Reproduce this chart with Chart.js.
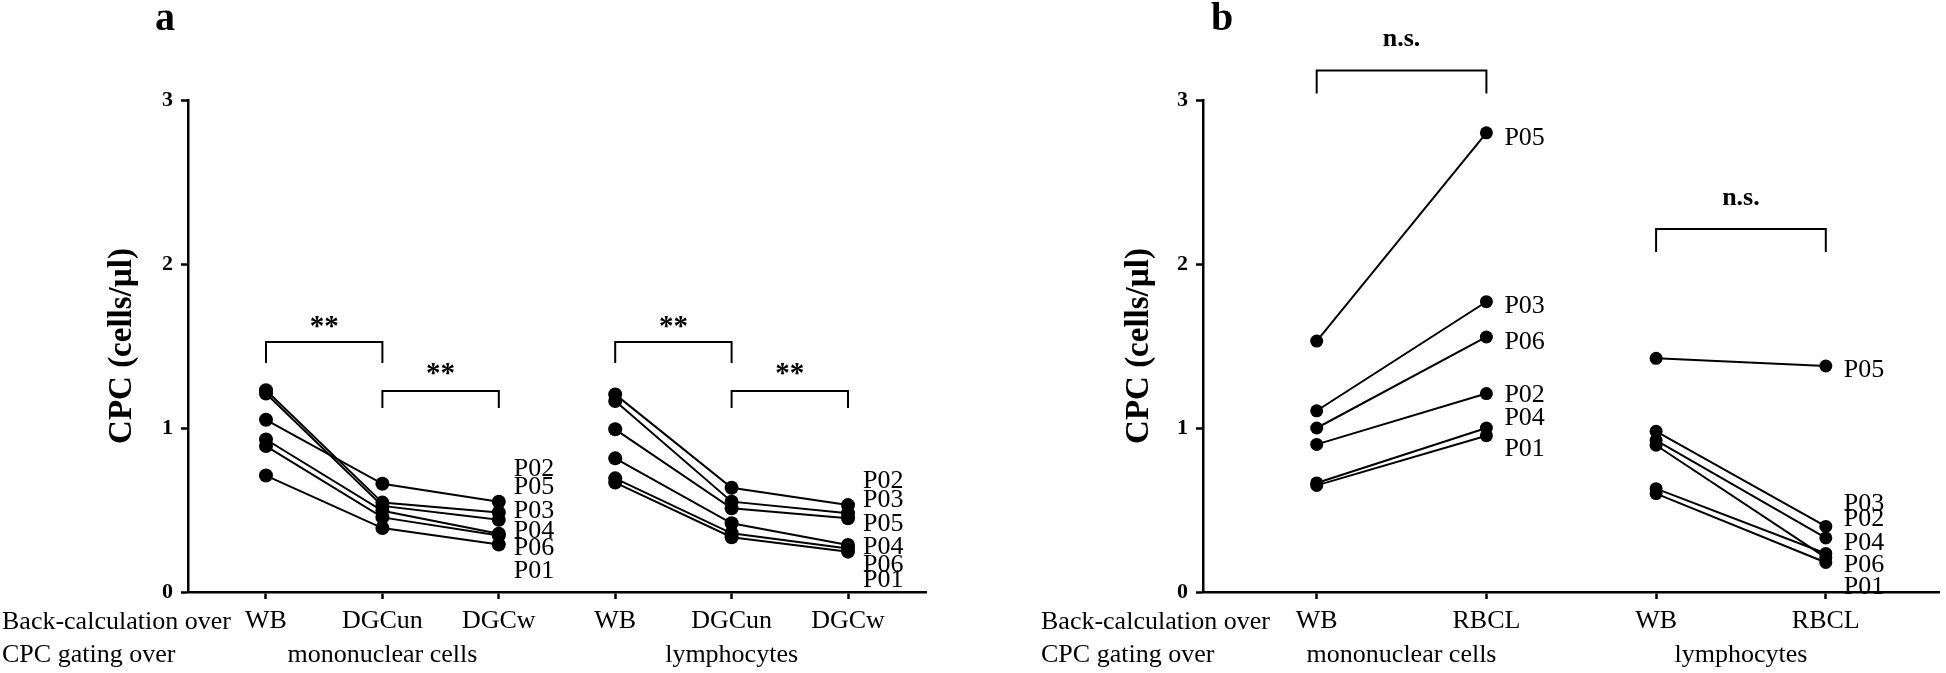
<!DOCTYPE html>
<html><head><meta charset="utf-8">
<script src="https://cdn.jsdelivr.net/npm/chart.js@4.4.1/dist/chart.umd.min.js"></script>
<style>
html,body{margin:0;padding:0;background:#fff;overflow:hidden;}
#wrapA{position:absolute;left:0;top:0;width:960px;height:673px;}
#wrapB{position:absolute;left:960px;top:0;width:986px;height:673px;}
</style></head><body>
<div id="wrapA"><canvas id="cA" width="960" height="673"></canvas></div>
<div id="wrapB"><canvas id="cB" width="986" height="673"></canvas></div>
<script>
// ---------- data ----------
const patients = ['P01','P02','P03','P04','P05','P06'];
const catsA = ['WB','DGCun','DGCw','WB','DGCun','DGCw'];
const catsB = ['WB','RBCL','WB','RBCL'];
const groupNames = ['mononuclear cells','lymphocytes'];
const rowNames = ['Back-calculation over','CPC gating over'];
const yTickValues = [0,1,2,3];
const yTitle = 'CPC (cells/µl)';

// Panel a – mononuclear cells (P01..P06)
const aMonoWB    = [0.71, 1.05, 1.21, 0.93, 1.23, 0.89];
const aMonoDGCun = [0.39, 0.66, 0.525, 0.495, 0.545, 0.455];
const aMonoDGCw  = [0.29, 0.55, 0.44, 0.355, 0.485, 0.345];
// Panel a – lymphocytes
const aLymWB    = [0.667, 1.205, 1.165, 0.815, 0.992, 0.693];
const aLymDGCun = [0.334, 0.636, 0.551, 0.419, 0.51, 0.358];
const aLymDGCw  = [0.246, 0.53, 0.48, 0.287, 0.45, 0.265];
// Panel b – mononuclear cells
const bMonoWB   = [0.65, 0.90, 1.105, 0.665, 1.53, 1.0];
const bMonoRBCL = [0.953, 1.21, 1.77, 1.0, 2.8, 1.555];
// Panel b – lymphocytes
const bLymWB    = [0.60, 0.925, 0.98, 0.63, 1.425, 0.895];
const bLymRBCL  = [0.18, 0.33, 0.40, 0.235, 1.378, 0.21];

// patient label heights (value units), P01..P06
const aMonoLabelY = [0.127, 0.749, 0.494, 0.371, 0.637, 0.265];
const aLymLabelY  = [0.073, 0.673, 0.561, 0.276, 0.415, 0.165];
const bMonoLabelY = [0.871, 1.198, 1.74, 1.059, 2.77, 1.524];
const bLymLabelY  = [0.032, 0.443, 0.537, 0.297, 1.354, 0.165];

// significance brackets
const aSigFrom = [0, 1, 3, 4];
const aSigTo   = [1, 2, 4, 5];
const aSigTop  = [1.524, 1.226, 1.524, 1.226];
const aSigLeg  = [1.396, 1.122, 1.396, 1.122];
const aSigText = ['**','**','**','**'];
const aSigTextY = [1.57, 1.278, 1.57, 1.278];
const bSigFrom = [0, 2];
const bSigTo   = [1, 3];
const bSigTop  = [3.18, 2.213];
const bSigLeg  = [3.04, 2.073];
const bSigText = ['n.s.','n.s.'];
const bSigTextY = [3.33, 2.36];

// ---------- helpers ----------
const SERIF = '"Liberation Serif", "Times New Roman", serif';

function buildDatasets(groups, radius) {
  const ds = [];
  groups.forEach(g => {
    patients.forEach((p, i) => {
      ds.push({
        label: p,
        data: g.cols.map((col, k) => ({x: g.start + k, y: col[i]})),
        borderColor: '#000', backgroundColor: '#000',
        pointBackgroundColor: '#000', pointBorderColor: '#000',
        borderWidth: 2, pointRadius: radius, pointBorderWidth: 0,
        tension: 0, fill: false
      });
    });
  });
  return ds;
}

function overlay(cfg) {
  return {
    id: 'overlay' + cfg.letter,
    afterDraw(chart) {
      const ctx = chart.ctx, xs = chart.scales.x, ys = chart.scales.y;
      ctx.save();
      ctx.fillStyle = '#000'; ctx.strokeStyle = '#000';
      // panel letter
      ctx.font = 'bold 40px ' + SERIF;
      ctx.textAlign = 'center'; ctx.textBaseline = 'alphabetic';
      ctx.fillText(cfg.letter, cfg.letterX, 30);
      // row labels
      ctx.font = '26px ' + SERIF;
      ctx.textAlign = 'left';
      ctx.fillText(rowNames[0], cfg.rowX, 629);
      ctx.fillText(rowNames[1], cfg.rowX, 662);
      // group labels
      ctx.textAlign = 'center';
      groupNames.forEach((g, i) => ctx.fillText(g, xs.getPixelForValue(cfg.groupCenters[i]), 662));
      // patient labels
      ctx.textAlign = 'left'; ctx.textBaseline = 'middle';
      cfg.labelSets.forEach(ls => {
        const px = xs.getPixelForValue(ls.at) + cfg.labelOffset;
        patients.forEach((p, i) => ctx.fillText(p, px, ys.getPixelForValue(ls.ys[i])));
      });
      // brackets
      ctx.lineWidth = 2;
      ctx.textAlign = 'center'; ctx.textBaseline = 'alphabetic';
      ctx.font = 'bold ' + cfg.sigFont + 'px ' + SERIF;
      cfg.sig.from.forEach((f, i) => {
        const x1 = xs.getPixelForValue(f), x2 = xs.getPixelForValue(cfg.sig.to[i]);
        const yt = ys.getPixelForValue(cfg.sig.top[i]), yl = ys.getPixelForValue(cfg.sig.leg[i]);
        ctx.beginPath();
        ctx.moveTo(x1, yl); ctx.lineTo(x1, yt); ctx.lineTo(x2, yt); ctx.lineTo(x2, yl);
        ctx.stroke();
        ctx.fillText(cfg.sig.text[i], (x1 + x2) / 2, ys.getPixelForValue(cfg.sig.textY[i]));
      });
      ctx.restore();
    }
  };
}

function makeChart(id, cats, groups, radius, dims, cfg) {
  return new Chart(document.getElementById(id), {
    type: 'line',
    data: { datasets: buildDatasets(groups, radius) },
    options: {
      responsive: false, animation: false, devicePixelRatio: 1, events: [],
      layout: { padding: { left: 0, right: dims.padRight, top: 100, bottom: 0 } },
      plugins: { legend: { display: false }, tooltip: { enabled: false }, title: { display: false } },
      scales: {
        x: {
          type: 'linear', min: -0.67, max: cats.length - 1 + 0.67,
          afterBuildTicks: s => { s.ticks = cats.map((c, i) => ({ value: i })); },
          afterFit: s => { s.height = 81; },
          ticks: { autoSkip: false, maxRotation: 0, padding: 7, color: '#000',
                   font: { family: SERIF, size: 26 },
                   callback: v => cats[v] },
          grid: { drawOnChartArea: false, drawTicks: true, tickLength: 7, tickWidth: 2.5, tickColor: '#000' },
          border: { display: true, color: '#000', width: 2.5 }
        },
        y: {
          type: 'linear', min: 0, max: 3,
          afterBuildTicks: s => { s.ticks = yTickValues.map(v => ({ value: v })); },
          afterFit: s => { s.width = dims.yWidth; },
          ticks: { padding: 8, color: '#000', font: { family: SERIF, size: 22, weight: 'bold' } },
          grid: { drawOnChartArea: false, drawTicks: true, tickLength: 7, tickWidth: 2.5, tickColor: '#000' },
          border: { display: true, color: '#000', width: 2.5 },
          title: { display: true, text: yTitle, color: '#000',
                   font: { family: SERIF, size: 33, weight: 'bold' },
                   padding: { top: dims.titlePad, bottom: 0 } }
        }
      }
    },
    plugins: [overlay(cfg)]
  });
}

makeChart('cA', catsA, [
  { start: 0, cols: [aMonoWB, aMonoDGCun, aMonoDGCw] },
  { start: 3, cols: [aLymWB, aLymDGCun, aLymDGCw] }
], 7, { padRight: 34, yWidth: 188, titlePad: 103 }, {
  letter: 'a', letterX: 165, rowX: 2, groupCenters: [1, 4], labelOffset: 15,
  labelSets: [ { at: 2, ys: aMonoLabelY }, { at: 5, ys: aLymLabelY } ],
  sigFont: 29,
  sig: { from: aSigFrom, to: aSigTo, top: aSigTop, leg: aSigLeg, text: aSigText, textY: aSigTextY }
});

makeChart('cB', catsB, [
  { start: 0, cols: [bMonoWB, bMonoRBCL] },
  { start: 2, cols: [bLymWB, bLymRBCL] }
], 6.5, { padRight: 3, yWidth: 243, titlePad: 160 }, {
  letter: 'b', letterX: 262, rowX: 81, groupCenters: [0.5, 2.5], labelOffset: 18,
  labelSets: [ { at: 1, ys: bMonoLabelY }, { at: 3, ys: bLymLabelY } ],
  sigFont: 26,
  sig: { from: bSigFrom, to: bSigTo, top: bSigTop, leg: bSigLeg, text: bSigText, textY: bSigTextY }
});
</script>
</body></html>
